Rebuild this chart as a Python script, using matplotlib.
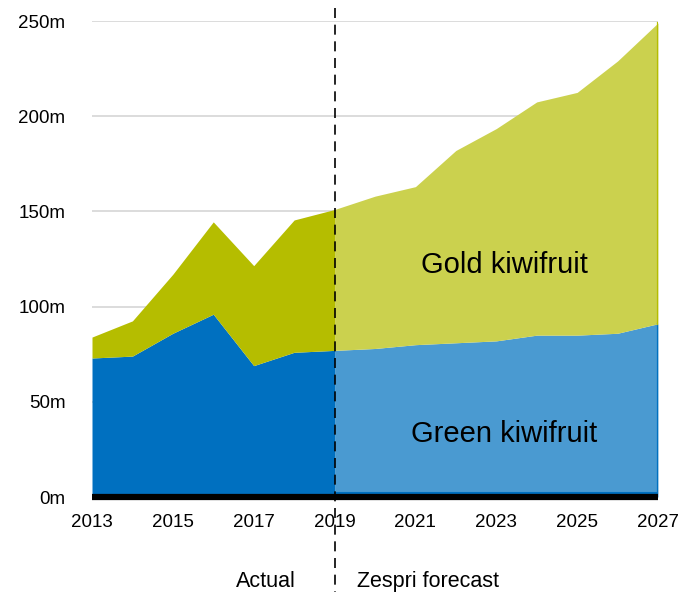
import matplotlib
matplotlib.use("Agg")
import matplotlib.pyplot as plt
import matplotlib.transforms as mtransforms
import numpy as np

plt.rcParams["font.family"] = ["Liberation Sans", "DejaVu Sans"]

years = [2013, 2014, 2015, 2016, 2017, 2018, 2019,
         2020, 2021, 2022, 2023, 2024, 2025, 2026, 2027]
green = [73, 74, 86, 96, 69, 76, 77,
         78, 80, 81, 82, 85, 85, 86, 91]
gold_total = [84, 92.5, 117, 144.5, 121.5, 145.5, 151,
              158, 163, 182, 193.5, 207.5, 212.5, 229, 249]
split_year = 2019

yticks = [0, 50, 100, 150, 200, 250]
ytick_labels = ["0m", "50m", "100m", "150m", "200m", "250m"]
xticks = [2013, 2015, 2017, 2019, 2021, 2023, 2025, 2027]

DARK_BLUE = "#0070C0"
DARK_GOLD = "#B5BD00"
LIGHT_BLUE = "#4A9AD1"
LIGHT_GOLD = "#CBD14E"

years = np.array(years)
green = np.array(green)
gold_total = np.array(gold_total)
actual = years <= split_year
forecast = years >= split_year

fig = plt.figure(figsize=(6.88, 5.96), dpi=100)
ax = fig.add_axes([92 / 688, 1 - 497 / 596, 566 / 688, 476 / 596])

# grid
for y in yticks[1:]:
    ax.axhline(y, color="#d9d9d9", lw=1.3, zorder=0)

ax.fill_between(years[actual], 0, green[actual], color=DARK_BLUE, lw=0, zorder=2)
ax.fill_between(years[actual], green[actual], gold_total[actual], color=DARK_GOLD, lw=0, zorder=2)
ax.fill_between(years[forecast], 0, green[forecast], color=LIGHT_BLUE, lw=0, zorder=2)
ax.fill_between(years[forecast], green[forecast], gold_total[forecast], color=LIGHT_GOLD, lw=0, zorder=2)

# darker edges on forecast block
ax.plot([years[-1], years[-1]], [0, green[-1]], color=DARK_BLUE, lw=1.6, zorder=3)
ax.plot([years[-1], years[-1]], [green[-1], gold_total[-1]], color=DARK_GOLD, lw=1.6, zorder=3)
up = mtransforms.offset_copy(ax.transData, fig=fig, x=0, y=4, units="dots")
ax.plot(years[forecast], np.zeros(forecast.sum()), color=DARK_BLUE, lw=2.2,
        transform=up, zorder=3, solid_capstyle="butt")

# black baseline
ax.plot([years[0], years[-1]], [0, 0], color="black", lw=4.5, zorder=4,
        clip_on=False, solid_capstyle="butt")

# split line
trans = mtransforms.blended_transform_factory(ax.transData, ax.transAxes)
ax.plot([split_year, split_year], [1.027, -0.2], transform=trans, color="black",
        lw=1.2, ls=(0, (6, 4)), clip_on=False, zorder=5)

ax.set_xlim(years[0], years[-1])
ax.set_ylim(0, 250)
ax.set_yticks(yticks)
ax.set_yticklabels(ytick_labels)
ax.set_xticks(xticks)
ax.set_xticklabels([str(x) for x in xticks])
ax.tick_params(axis="both", length=0, labelsize=13.5)
ax.tick_params(axis="y", pad=19)
ax.tick_params(axis="x", pad=12)
for s in ax.spines.values():
    s.set_visible(False)

ax.text(2023.2, 122, "Gold kiwifruit", fontsize=21, ha="center", va="center", zorder=6)
ax.text(2023.2, 33, "Green kiwifruit", fontsize=21, ha="center", va="center", zorder=6)

ax.text(split_year - 0.95, -0.177, "Actual", transform=trans, fontsize=15.5,
        ha="right", va="center")
ax.text(split_year + 0.55, -0.177, "Zespri forecast", transform=trans, fontsize=15.5,
        ha="left", va="center")

fig.savefig("out.png", dpi=100)
